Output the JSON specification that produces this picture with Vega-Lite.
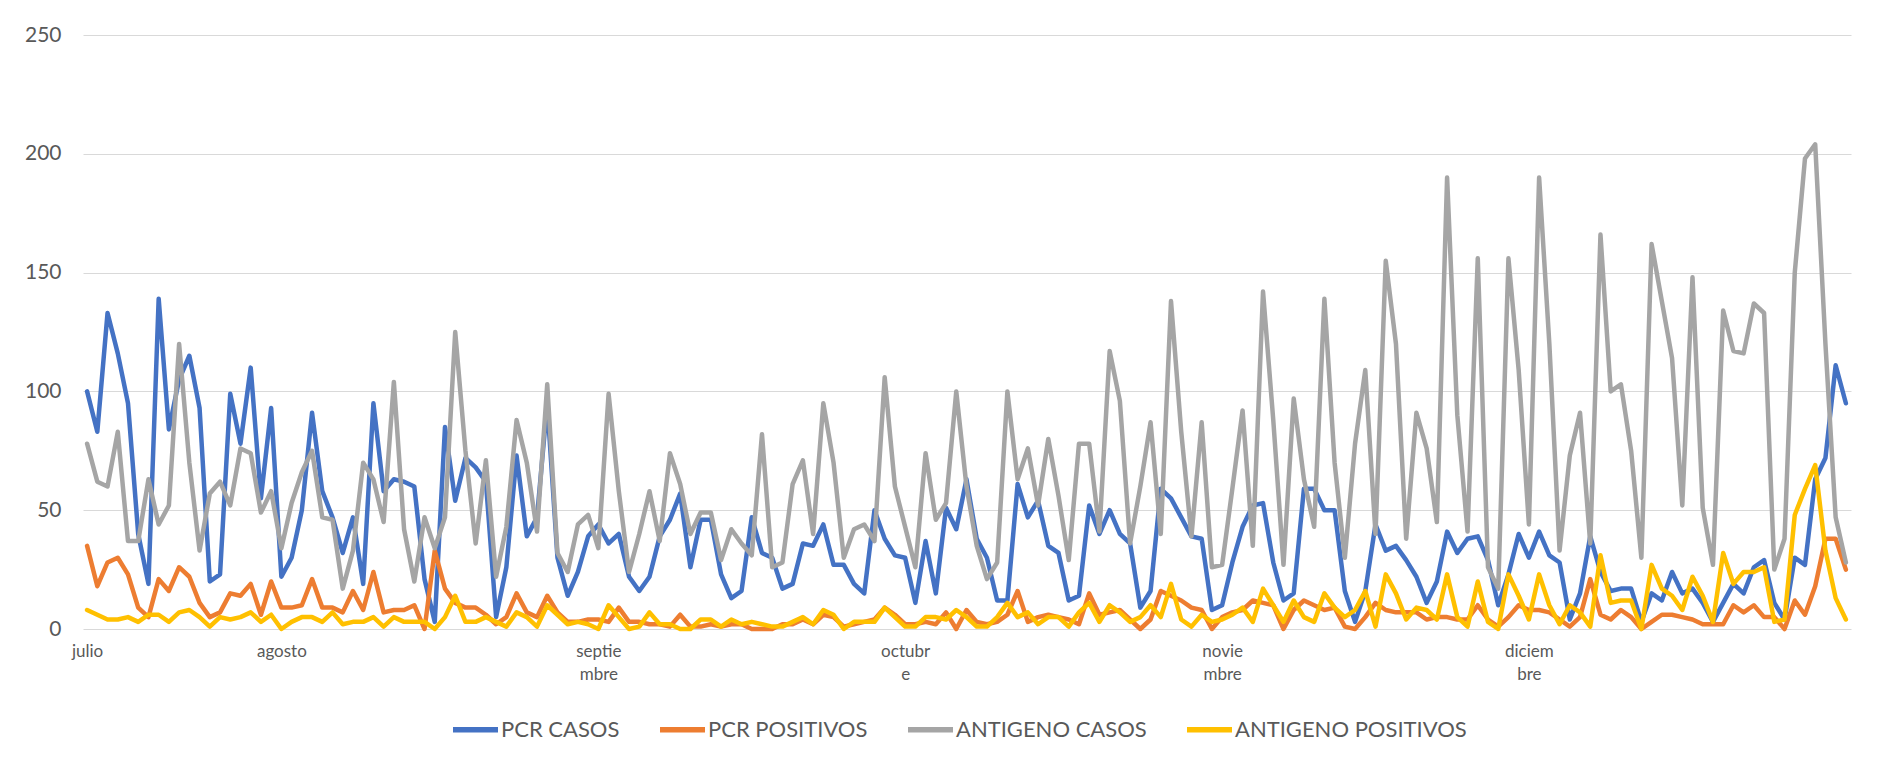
{
  "$schema": "https://vega.github.io/schema/vega-lite/v6.json",
  "width": 1768,
  "height": 594,
  "autosize": {"type": "none"},
  "padding": {"left": 83, "top": 35, "right": 52, "bottom": 133},
  "background": "white",
  "config": {"font": "Lato", "view": {"stroke": null}},
  "data": {"values": [
{"i":0,"pc":100,"pp":35,"ac":78,"ap":8},{"i":1,"pc":83,"pp":18,"ac":62,"ap":6},{"i":2,"pc":133,"pp":28,"ac":60,"ap":4},{"i":3,"pc":116,"pp":30,"ac":83,"ap":4},{"i":4,"pc":95,"pp":23,"ac":37,"ap":5},{"i":5,"pc":40,"pp":9,"ac":37,"ap":3},{"i":6,"pc":19,"pp":5,"ac":63,"ap":6},{"i":7,"pc":139,"pp":21,"ac":44,"ap":6},{"i":8,"pc":84,"pp":16,"ac":52,"ap":3},{"i":9,"pc":105,"pp":26,"ac":120,"ap":7},
{"i":10,"pc":115,"pp":22,"ac":70,"ap":8},{"i":11,"pc":93,"pp":11,"ac":33,"ap":5},{"i":12,"pc":20,"pp":5,"ac":57,"ap":1},{"i":13,"pc":23,"pp":7,"ac":62,"ap":5},{"i":14,"pc":99,"pp":15,"ac":52,"ap":4},{"i":15,"pc":78,"pp":14,"ac":76,"ap":5},{"i":16,"pc":110,"pp":19,"ac":74,"ap":7},{"i":17,"pc":55,"pp":6,"ac":49,"ap":3},{"i":18,"pc":93,"pp":20,"ac":58,"ap":6},{"i":19,"pc":22,"pp":9,"ac":34,"ap":0},
{"i":20,"pc":30,"pp":9,"ac":53,"ap":3},{"i":21,"pc":50,"pp":10,"ac":66,"ap":5},{"i":22,"pc":91,"pp":21,"ac":75,"ap":5},{"i":23,"pc":58,"pp":9,"ac":47,"ap":3},{"i":24,"pc":47,"pp":9,"ac":46,"ap":7},{"i":25,"pc":32,"pp":7,"ac":17,"ap":2},{"i":26,"pc":47,"pp":16,"ac":33,"ap":3},{"i":27,"pc":19,"pp":8,"ac":70,"ap":3},{"i":28,"pc":95,"pp":24,"ac":63,"ap":5},{"i":29,"pc":58,"pp":7,"ac":45,"ap":1},
{"i":30,"pc":63,"pp":8,"ac":104,"ap":5},{"i":31,"pc":62,"pp":8,"ac":42,"ap":3},{"i":32,"pc":60,"pp":10,"ac":20,"ap":3},{"i":33,"pc":21,"pp":0,"ac":47,"ap":3},{"i":34,"pc":3,"pp":33,"ac":34,"ap":0},{"i":35,"pc":85,"pp":17,"ac":47,"ap":5},{"i":36,"pc":54,"pp":11,"ac":125,"ap":14},{"i":37,"pc":72,"pp":9,"ac":75,"ap":3},{"i":38,"pc":68,"pp":9,"ac":36,"ap":3},{"i":39,"pc":62,"pp":6,"ac":71,"ap":5},
{"i":40,"pc":5,"pp":2,"ac":22,"ap":3},{"i":41,"pc":26,"pp":5,"ac":43,"ap":1},{"i":42,"pc":73,"pp":15,"ac":88,"ap":7},{"i":43,"pc":39,"pp":7,"ac":70,"ap":5},{"i":44,"pc":47,"pp":5,"ac":41,"ap":1},{"i":45,"pc":95,"pp":14,"ac":103,"ap":10},{"i":46,"pc":30,"pp":7,"ac":32,"ap":6},{"i":47,"pc":14,"pp":3,"ac":24,"ap":2},{"i":48,"pc":24,"pp":3,"ac":44,"ap":3},{"i":49,"pc":39,"pp":4,"ac":48,"ap":2},
{"i":50,"pc":44,"pp":4,"ac":34,"ap":0},{"i":51,"pc":36,"pp":3,"ac":99,"ap":10},{"i":52,"pc":40,"pp":9,"ac":58,"ap":5},{"i":53,"pc":22,"pp":3,"ac":24,"ap":0},{"i":54,"pc":16,"pp":3,"ac":40,"ap":1},{"i":55,"pc":22,"pp":2,"ac":58,"ap":7},{"i":56,"pc":39,"pp":2,"ac":37,"ap":2},{"i":57,"pc":46,"pp":1,"ac":74,"ap":2},{"i":58,"pc":57,"pp":6,"ac":61,"ap":0},{"i":59,"pc":26,"pp":1,"ac":40,"ap":0},
{"i":60,"pc":46,"pp":1,"ac":49,"ap":4},{"i":61,"pc":46,"pp":2,"ac":49,"ap":4},{"i":62,"pc":23,"pp":1,"ac":29,"ap":1},{"i":63,"pc":13,"pp":2,"ac":42,"ap":4},{"i":64,"pc":16,"pp":2,"ac":36,"ap":2},{"i":65,"pc":47,"pp":0,"ac":31,"ap":3},{"i":66,"pc":32,"pp":0,"ac":82,"ap":2},{"i":67,"pc":30,"pp":0,"ac":26,"ap":1},{"i":68,"pc":17,"pp":2,"ac":28,"ap":1},{"i":69,"pc":19,"pp":2,"ac":61,"ap":3},
{"i":70,"pc":36,"pp":4,"ac":71,"ap":5},{"i":71,"pc":35,"pp":2,"ac":40,"ap":2},{"i":72,"pc":44,"pp":6,"ac":95,"ap":8},{"i":73,"pc":27,"pp":5,"ac":70,"ap":6},{"i":74,"pc":27,"pp":1,"ac":30,"ap":0},{"i":75,"pc":19,"pp":2,"ac":42,"ap":3},{"i":76,"pc":15,"pp":3,"ac":44,"ap":3},{"i":77,"pc":50,"pp":4,"ac":37,"ap":3},{"i":78,"pc":38,"pp":9,"ac":106,"ap":9},{"i":79,"pc":31,"pp":6,"ac":60,"ap":5},
{"i":80,"pc":30,"pp":2,"ac":43,"ap":1},{"i":81,"pc":11,"pp":2,"ac":26,"ap":1},{"i":82,"pc":37,"pp":3,"ac":74,"ap":5},{"i":83,"pc":15,"pp":2,"ac":46,"ap":5},{"i":84,"pc":51,"pp":7,"ac":53,"ap":4},{"i":85,"pc":42,"pp":0,"ac":100,"ap":8},{"i":86,"pc":63,"pp":8,"ac":60,"ap":5},{"i":87,"pc":38,"pp":3,"ac":35,"ap":1},{"i":88,"pc":30,"pp":2,"ac":21,"ap":1},{"i":89,"pc":12,"pp":3,"ac":28,"ap":5},
{"i":90,"pc":12,"pp":6,"ac":100,"ap":11},{"i":91,"pc":61,"pp":16,"ac":63,"ap":5},{"i":92,"pc":47,"pp":3,"ac":76,"ap":7},{"i":93,"pc":54,"pp":5,"ac":52,"ap":2},{"i":94,"pc":35,"pp":6,"ac":80,"ap":5},{"i":95,"pc":32,"pp":5,"ac":56,"ap":5},{"i":96,"pc":12,"pp":4,"ac":29,"ap":1},{"i":97,"pc":14,"pp":2,"ac":78,"ap":7},{"i":98,"pc":52,"pp":15,"ac":78,"ap":11},{"i":99,"pc":40,"pp":6,"ac":41,"ap":3},
{"i":100,"pc":50,"pp":7,"ac":117,"ap":10},{"i":101,"pc":40,"pp":8,"ac":96,"ap":7},{"i":102,"pc":36,"pp":4,"ac":36,"ap":3},{"i":103,"pc":9,"pp":0,"ac":60,"ap":5},{"i":104,"pc":16,"pp":4,"ac":87,"ap":10},{"i":105,"pc":59,"pp":16,"ac":40,"ap":5},{"i":106,"pc":55,"pp":14,"ac":138,"ap":19},{"i":107,"pc":47,"pp":12,"ac":83,"ap":4},{"i":108,"pc":39,"pp":9,"ac":39,"ap":1},{"i":109,"pc":38,"pp":8,"ac":87,"ap":6},
{"i":110,"pc":8,"pp":0,"ac":26,"ap":3},{"i":111,"pc":10,"pp":5,"ac":27,"ap":4},{"i":112,"pc":28,"pp":7,"ac":59,"ap":6},{"i":113,"pc":43,"pp":8,"ac":92,"ap":9},{"i":114,"pc":52,"pp":12,"ac":35,"ap":3},{"i":115,"pc":53,"pp":11,"ac":142,"ap":17},{"i":116,"pc":28,"pp":10,"ac":88,"ap":10},{"i":117,"pc":12,"pp":0,"ac":27,"ap":3},{"i":118,"pc":15,"pp":8,"ac":97,"ap":12},{"i":119,"pc":59,"pp":12,"ac":63,"ap":5},
{"i":120,"pc":59,"pp":10,"ac":43,"ap":3},{"i":121,"pc":50,"pp":8,"ac":139,"ap":15},{"i":122,"pc":50,"pp":9,"ac":70,"ap":9},{"i":123,"pc":16,"pp":1,"ac":30,"ap":5},{"i":124,"pc":3,"pp":0,"ac":78,"ap":8},{"i":125,"pc":16,"pp":5,"ac":109,"ap":16},{"i":126,"pc":44,"pp":11,"ac":40,"ap":1},{"i":127,"pc":33,"pp":8,"ac":155,"ap":23},{"i":128,"pc":35,"pp":7,"ac":120,"ap":15},{"i":129,"pc":29,"pp":7,"ac":38,"ap":4},
{"i":130,"pc":22,"pp":7,"ac":91,"ap":9},{"i":131,"pc":11,"pp":4,"ac":76,"ap":8},{"i":132,"pc":20,"pp":5,"ac":45,"ap":4},{"i":133,"pc":41,"pp":5,"ac":190,"ap":23},{"i":134,"pc":32,"pp":4,"ac":90,"ap":5},{"i":135,"pc":38,"pp":4,"ac":41,"ap":1},{"i":136,"pc":39,"pp":10,"ac":156,"ap":20},{"i":137,"pc":29,"pp":4,"ac":26,"ap":3},{"i":138,"pc":10,"pp":1,"ac":17,"ap":0},{"i":139,"pc":23,"pp":5,"ac":156,"ap":23},
{"i":140,"pc":40,"pp":10,"ac":109,"ap":14},{"i":141,"pc":30,"pp":8,"ac":44,"ap":4},{"i":142,"pc":41,"pp":8,"ac":190,"ap":23},{"i":143,"pc":31,"pp":7,"ac":120,"ap":10},{"i":144,"pc":28,"pp":4,"ac":33,"ap":2},{"i":145,"pc":4,"pp":1,"ac":73,"ap":10},{"i":146,"pc":15,"pp":5,"ac":91,"ap":7},{"i":147,"pc":39,"pp":21,"ac":36,"ap":1},{"i":148,"pc":24,"pp":6,"ac":166,"ap":31},{"i":149,"pc":16,"pp":4,"ac":100,"ap":11},
{"i":150,"pc":17,"pp":8,"ac":103,"ap":12},{"i":151,"pc":17,"pp":5,"ac":75,"ap":12},{"i":152,"pc":3,"pp":0,"ac":30,"ap":0},{"i":153,"pc":15,"pp":3,"ac":162,"ap":27},{"i":154,"pc":12,"pp":6,"ac":138,"ap":17},{"i":155,"pc":24,"pp":6,"ac":114,"ap":14},{"i":156,"pc":15,"pp":5,"ac":52,"ap":8},{"i":157,"pc":17,"pp":4,"ac":148,"ap":22},{"i":158,"pc":11,"pp":2,"ac":51,"ap":14},{"i":159,"pc":3,"pp":2,"ac":27,"ap":3},
{"i":160,"pc":11,"pp":2,"ac":134,"ap":32},{"i":161,"pc":19,"pp":10,"ac":117,"ap":19},{"i":162,"pc":15,"pp":7,"ac":116,"ap":24},{"i":163,"pc":26,"pp":10,"ac":137,"ap":24},{"i":164,"pc":29,"pp":5,"ac":133,"ap":26},{"i":165,"pc":11,"pp":5,"ac":25,"ap":3},{"i":166,"pc":4,"pp":0,"ac":38,"ap":4},{"i":167,"pc":30,"pp":12,"ac":150,"ap":48},{"i":168,"pc":27,"pp":6,"ac":198,"ap":59},{"i":169,"pc":63,"pp":18,"ac":204,"ap":69},
{"i":170,"pc":72,"pp":38,"ac":120,"ap":33},{"i":171,"pc":111,"pp":38,"ac":47,"ap":13},{"i":172,"pc":95,"pp":25,"ac":28,"ap":4}
  ]},
  "transform": [{"fold": ["pc", "pp", "ac", "ap"], "as": ["s", "v"]}],
  "mark": {"type": "line", "strokeWidth": 4.5, "strokeJoin": "round", "strokeCap": "round"},
  "encoding": {
    "x": {
      "field": "i", "type": "quantitative",
      "scale": {"domain": [-0.4, 172.5], "nice": false, "zero": false},
      "axis": {
        "title": null, "values": [0, 19, 50, 80, 111, 141],
        "labelExpr": "datum.value == 0 ? 'julio' : datum.value == 19 ? 'agosto' : datum.value == 50 ? ['septie','mbre'] : datum.value == 80 ? ['octubr','e'] : datum.value == 111 ? ['novie','mbre'] : ['diciem','bre']",
        "grid": false, "domain": false, "ticks": false, "labelFlush": false, "labelOverlap": false,
        "labelFont": "Lato", "labelFontSize": 17, "labelColor": "#595959", "labelPadding": 14, "labelLineHeight": 23
      }
    },
    "y": {
      "field": "v", "type": "quantitative",
      "scale": {"domain": [0, 250], "nice": false},
      "axis": {
        "title": null, "values": [0, 50, 100, 150, 200, 250],
        "grid": true, "gridColor": "#D9D9D9", "gridWidth": 1.2, "domain": false, "ticks": false,
        "labelFont": "Lato", "labelFontSize": 21, "labelColor": "#595959", "labelPadding": 22
      }
    },
    "color": {
      "field": "s", "type": "nominal",
      "scale": {"domain": ["pc", "pp", "ac", "ap"], "range": ["#4472C4", "#ED7D31", "#A5A5A5", "#FFC000"]},
      "legend": {
        "orient": "none", "legendX": 367, "legendY": 669, "direction": "horizontal", "title": null,
        "symbolType": "stroke", "symbolSize": 2025, "symbolStrokeWidth": 5.5,
        "labelExpr": "datum.value == 'pc' ? 'PCR CASOS' : datum.value == 'pp' ? 'PCR POSITIVOS' : datum.value == 'ac' ? 'ANTIGENO CASOS' : 'ANTIGENO POSITIVOS'",
        "labelFont": "Lato", "labelFontSize": 22, "labelColor": "#595959", "labelOffset": 0, "labelLimit": 0,
        "columnPadding": 29
      }
    }
  }
}
